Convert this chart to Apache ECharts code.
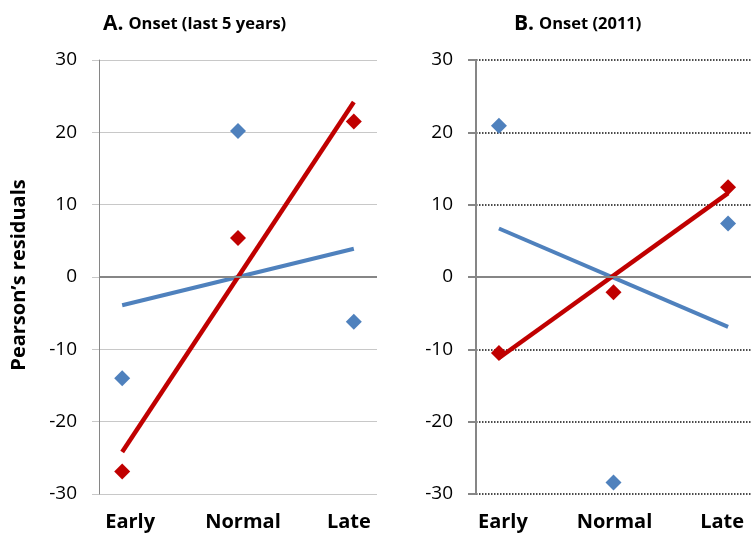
<!DOCTYPE html>
<html>
<head>
<meta charset="utf-8">
<script src="https://cdn.jsdelivr.net/npm/echarts@6/dist/echarts.min.js"></script>
<style>
html,body{margin:0;padding:0;background:#fff;}
#chart{width:751px;height:536px;}
</style>
</head>
<body>
<div id="chart"></div>
<script>
// ---- data ----
var categories = ['Early', 'Normal', 'Late'];
var yTicks = [-30, -20, -10, 0, 10, 20, 30];
// Panel A: Onset (last 5 years)
var aBlue = [-14.0, 20.2, -6.2];
var aRed = [-26.9, 5.4, 21.5];
var aBlueTrend = [-3.9, 3.9];   // at Early, Late
var aRedTrend = [-24.2, 24.2];  // at Early, Late
// Panel B: Onset (2011)
var bBlue = [20.9, -28.4, 7.4];
var bRed = [-10.5, -2.1, 12.4];
var bBlueTrend = [6.7, -6.9];
var bRedTrend = [-11.2, 11.6];

var BLUE = '#4f81bd', RED = '#c00000';
var FONT = 'Open Sans';

function pts(vals) { return vals.map(function (v, i) { return [i + 1, v]; }); }
function trend(vals) { return [[1, vals[0]], [3, vals[1]]]; }

function xLabelFormatter() {
  return function (v) {
    var r = Math.round(v);
    if (Math.abs(v - r) > 1e-6 || r < 1 || r > 3) return '';
    return '{s' + (r - 1) + '|' + categories[r - 1] + '}';
  };
}
function xRich(shifts) {
  var rich = {};
  shifts.forEach(function (d, i) {
    rich['s' + i] = {
      fontFamily: FONT, fontWeight: 'bold', fontSize: 20, color: '#000',
      padding: d >= 0 ? [0, 0, 0, 2 * d] : [0, -2 * d, 0, 0]
    };
  });
  return rich;
}

function makeX(gridIndex, shifts) {
  return {
    type: 'value', gridIndex: gridIndex, min: 0.8, max: 3.2, interval: 0.2,
    axisLine: { show: false }, axisTick: { show: false }, splitLine: { show: false },
    axisLabel: {
      margin: 18, formatter: xLabelFormatter(), rich: xRich(shifts),
      showMinLabel: false, showMaxLabel: false
    }
  };
}

var chart = echarts.init(document.getElementById('chart'), null, { renderer: 'canvas' });
var option = {
  animation: false,
  backgroundColor: '#fff',
  title: [
    {
      text: '{a|A.} {b|Onset (last 5 years)}', left: 98, top: 9,
      textStyle: { rich: {
        a: { fontFamily: FONT, fontWeight: 'bold', fontSize: 21, color: '#000' },
        b: { fontFamily: FONT, fontWeight: 'bold', fontSize: 16.5, color: '#000' }
      } }
    },
    {
      text: '{a|B.} {b|Onset (2011)}', left: 509, top: 9,
      textStyle: { rich: {
        a: { fontFamily: FONT, fontWeight: 'bold', fontSize: 21, color: '#000' },
        b: { fontFamily: FONT, fontWeight: 'bold', fontSize: 16.5, color: '#000' }
      } }
    }
  ],
  graphic: [{
    type: 'text', x: 19, y: 275, rotation: Math.PI / 2,
    style: {
      text: 'Pearson\u2019s residuals', fontFamily: FONT, fontWeight: 'bold', fontSize: 20,
      fill: '#000', align: 'center', verticalAlign: 'middle'
    }
  }],
  grid: [
    { left: 99, top: 60, width: 278, height: 434 },
    { left: 476, top: 60, width: 284, height: 434 }
  ],
  xAxis: [makeX(0, [8, 5, -5]), makeX(1, [4, 1, -6])],
  yAxis: [
    {
      type: 'value', gridIndex: 0, min: -30, max: 30, interval: 10,
      axisLine: { show: true, onZero: false, lineStyle: { color: '#868686', width: 1 } },
      axisTick: { show: true, length: 7, lineStyle: { color: '#c8c8c8', width: 1 } },
      splitLine: { show: true, lineStyle: { color: '#c8c8c8', width: 1 } },
      axisLabel: { margin: 22, fontFamily: FONT, fontSize: 19, color: '#000' }
    },
    {
      type: 'value', gridIndex: 1, min: -30, max: 30, interval: 10,
      axisLine: { show: true, onZero: false, lineStyle: { color: '#868686', width: 2 } },
      axisTick: { show: true, length: 8, lineStyle: { color: '#868686', width: 2 } },
      splitLine: { show: true, lineStyle: { color: '#111', width: 1.5, type: [1.5, 1.5] } },
      axisLabel: { margin: 23, fontFamily: FONT, fontSize: 19, color: '#000' }
    }
  ],
  series: [
    // Panel A
    {
      type: 'line', xAxisIndex: 0, yAxisIndex: 0, data: trend(aBlueTrend), showSymbol: false,
      lineStyle: { color: BLUE, width: 4 }, z: 3,
      markLine: {
        silent: true, symbol: 'none', label: { show: false },
        lineStyle: { color: '#868686', width: 2, type: 'solid' },
        data: [{ yAxis: 0 }]
      }
    },
    {
      type: 'line', xAxisIndex: 0, yAxisIndex: 0, data: trend(aRedTrend), showSymbol: false,
      lineStyle: { color: RED, width: 4.5 }, z: 4
    },
    {
      type: 'scatter', xAxisIndex: 0, yAxisIndex: 0, data: pts(aBlue), symbol: 'diamond',
      symbolSize: 16, itemStyle: { color: BLUE, opacity: 1 }, z: 5
    },
    {
      type: 'scatter', xAxisIndex: 0, yAxisIndex: 0, data: pts(aRed), symbol: 'diamond',
      symbolSize: 16, itemStyle: { color: RED, opacity: 1 }, z: 5
    },
    // Panel B
    {
      type: 'line', xAxisIndex: 1, yAxisIndex: 1, data: trend(bBlueTrend), showSymbol: false,
      lineStyle: { color: BLUE, width: 4 }, z: 3,
      markLine: {
        silent: true, symbol: 'none', label: { show: false },
        lineStyle: { color: '#868686', width: 2, type: 'solid' },
        data: [{ yAxis: 0 }]
      }
    },
    {
      type: 'line', xAxisIndex: 1, yAxisIndex: 1, data: trend(bRedTrend), showSymbol: false,
      lineStyle: { color: RED, width: 4.5 }, z: 4
    },
    {
      type: 'scatter', xAxisIndex: 1, yAxisIndex: 1, data: pts(bBlue), symbol: 'diamond',
      symbolSize: 16, itemStyle: { color: BLUE, opacity: 1 }, z: 5
    },
    {
      type: 'scatter', xAxisIndex: 1, yAxisIndex: 1, data: pts(bRed), symbol: 'diamond',
      symbolSize: 16, itemStyle: { color: RED, opacity: 1 }, z: 5
    }
  ]
};
chart.setOption(option);
</script>
</body>
</html>
